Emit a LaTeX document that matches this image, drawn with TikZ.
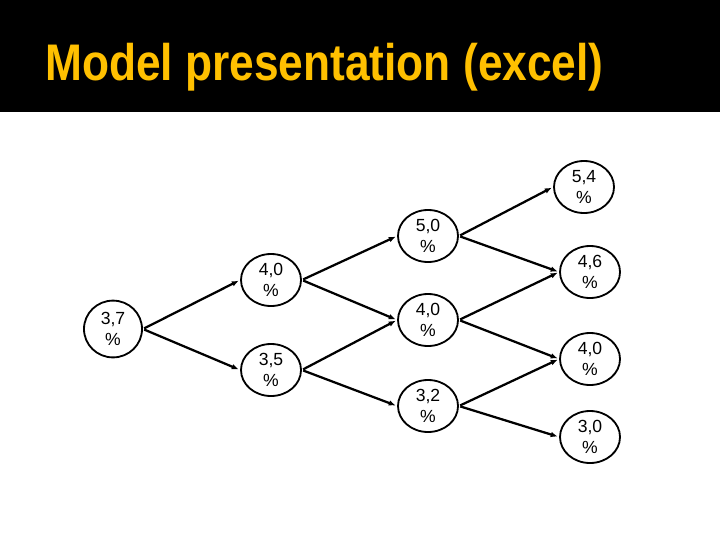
\documentclass[tikz,border=0pt]{standalone}
\usepackage{fontspec}
\setmainfont{Liberation Sans}
\usepackage{tikz}
\usetikzlibrary{shapes.geometric, arrows.meta, positioning}
\definecolor{titleyellow}{RGB}{255,192,0}
\tikzset{
  rate/.style={ellipse,draw=black,line width=1.3pt,fill=white,
    minimum width=1.5cm,minimum height=1.3cm,inner sep=0pt,align=center,
    font=\fontsize{12.5}{14.5}\selectfont},
  rootrate/.style={rate,minimum width=1.45cm,minimum height=1.42cm},
  branch/.style={-{Latex[length=5pt,width=4pt]},line width=1.6pt,draw=black,
    shorten <=1pt,shorten >=1pt},
  slidetitle/.style={anchor=base west,inner sep=0pt,text=titleyellow,
    font=\bfseries\fontsize{36.6}{40}\selectfont}
}

\begin{document}
\begin{tikzpicture}[x=0.025cm,y=-0.025cm]
  \useasboundingbox (0,0) rectangle (720,540);
  \fill[white] (0,0) rectangle (720,540);
  \fill[black] (0,0) rectangle (720,112);
  \node[slidetitle] (title) at (45,80)
    {\scalebox{0.86}[1]{Model presentation (excel)}};

  % tree of rates
  \node[rootrate] (r0) at (113,329) {3,7\\ \%};
  \node[rate] (u1) at (271,280) {4,0\\ \%};
  \node[rate] (d1) at (271,370) {3,5\\ \%};
  \node[rate] (uu2) at (428,236) {5,0\\ \%};
  \node[rate] (ud2) at (428,320) {4,0\\ \%};
  \node[rate] (dd2) at (428,406) {3,2\\ \%};
  \node[rate] (uuu3) at (584,187) {5,4\\ \%};
  \node[rate] (uud3) at (590,272) {4,6\\ \%};
  \node[rate] (udd3) at (590,359) {4,0\\ \%};
  \node[rate] (ddd3) at (590,437) {3,0\\ \%};

  \draw[branch] (r0.east) -- (u1.west);
  \draw[branch] (r0.east) -- (d1.west);
  \draw[branch] (u1.east) -- (uu2.west);
  \draw[branch] (u1.east) -- (ud2.west);
  \draw[branch] (d1.east) -- (ud2.west);
  \draw[branch] (d1.east) -- (dd2.west);
  \draw[branch] (uu2.east) -- (uuu3.west);
  \draw[branch] (uu2.east) -- (uud3.west);
  \draw[branch] (ud2.east) -- (uud3.west);
  \draw[branch] (ud2.east) -- (udd3.west);
  \draw[branch] (dd2.east) -- (udd3.west);
  \draw[branch] (dd2.east) -- (ddd3.west);
\end{tikzpicture}
\end{document}
